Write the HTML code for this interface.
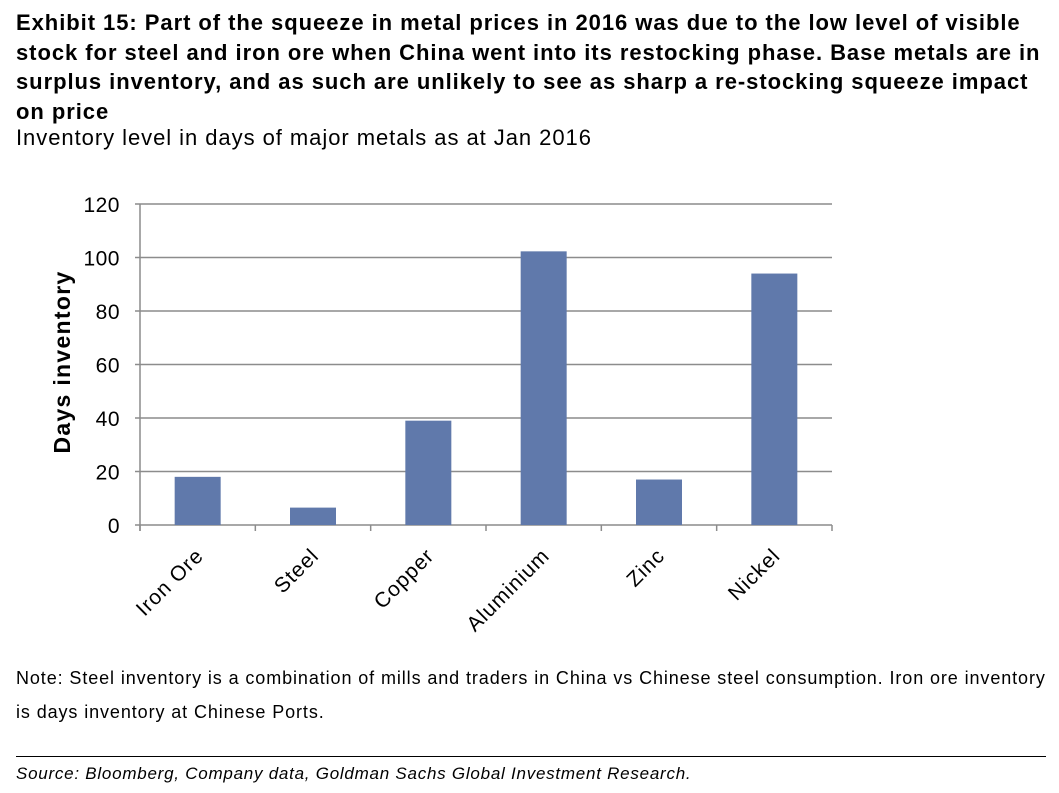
<!DOCTYPE html>
<html><head><meta charset="utf-8"><style>
body{margin:0;background:#fff;width:1059px;height:793px;overflow:hidden;font-family:"Liberation Sans",Arial,sans-serif;position:relative}
.t{position:absolute;left:16px;top:8px;width:1050px;font-weight:bold;font-size:22px;letter-spacing:0.95px;line-height:29.5px;color:#000;white-space:nowrap}
.s{position:absolute;left:16px;top:125px;font-size:22px;letter-spacing:0.95px;color:#000;white-space:nowrap}
.n{position:absolute;left:16px;top:661px;width:1045px;font-size:18px;letter-spacing:0.9px;line-height:34px;color:#000;white-space:nowrap}
.hr{position:absolute;left:16px;top:756px;width:1030px;border-top:1px solid #000}
.src{position:absolute;left:16px;top:764px;font-size:17px;letter-spacing:0.75px;font-style:italic;color:#000;white-space:nowrap}
</style></head><body>
<div class="t">Exhibit 15: Part of the squeeze in metal prices in 2016 was due to the low level of visible<br>stock for steel and iron ore when China went into its restocking phase. Base metals are in<br>surplus inventory, and as such are unlikely to see as sharp a re-stocking squeeze impact<br>on price</div>
<div class="s">Inventory level in days of major metals as at Jan 2016</div>
<svg id="chart" width="1059" height="793" style="position:absolute;left:0;top:0"></svg>
<div class="n">Note: Steel inventory is a combination of mills and traders in China vs Chinese steel consumption. Iron ore inventory<br>is days inventory at Chinese Ports.</div>
<div class="hr"></div>
<div class="src">Source: Bloomberg, Company data, Goldman Sachs Global Investment Research.</div>
<script>
const categories=["Iron Ore","Steel","Copper","Aluminium","Zinc","Nickel"];
const values=[18,6.5,39,102.3,17,94];
const yTicks=[0,20,40,60,80,100,120];
const svg=document.getElementById('chart');
const NS='http://www.w3.org/2000/svg';
const L=140,R=832,T=204,B=525,yMax=120;
const y=v=>B-(v/yMax)*(B-T);
const bw=(R-L)/categories.length;
const x=i=>L+bw*i;
function mk(tag,a){const e=document.createElementNS(NS,tag);for(const k in a)e.setAttribute(k,a[k]);svg.appendChild(e);return e;}
yTicks.forEach(v=>{
  const g=mk('line',{x1:135,x2:R,y1:y(v),y2:y(v),stroke:'#8c8c8c','stroke-width':1.5});
  
  
  const t=mk('text',{x:120,y:y(v)+8,'text-anchor':'end','font-size':21,'font-family':'Liberation Sans, sans-serif','letter-spacing':0.5});
  t.textContent=v;
  
  
});
const ax=mk('line',{x1:L,x2:L,y1:T,y2:B+6,stroke:'#8c8c8c','stroke-width':1.5});


for(let i=0;i<=categories.length;i++){
  const tk=mk('line',{x1:x(i),x2:x(i),y1:B,y2:B+6,stroke:'#8c8c8c','stroke-width':1.5});
  
  
}
categories.forEach((c,i)=>{
  const cx=x(i)+bw/2;
  const r=mk('rect',{x:cx-23,y:y(values[i]),width:46,height:B-y(values[i]),fill:'#6079ab'});
  
  
  const t=mk('text',{x:0,y:0,'text-anchor':'end','font-size':21,'letter-spacing':1,'font-family':'Liberation Sans, sans-serif',transform:`translate(${cx+7},${B+32}) rotate(-45)`});
  t.textContent=c;
  
  
});
const yt=mk('text',{x:0,y:0,'text-anchor':'middle','font-size':23,'letter-spacing':1.3,'font-weight':'bold','font-family':'Liberation Sans, sans-serif',transform:'translate(70,362) rotate(-90)'});
yt.textContent='Days inventory';


</script>
</body></html>
